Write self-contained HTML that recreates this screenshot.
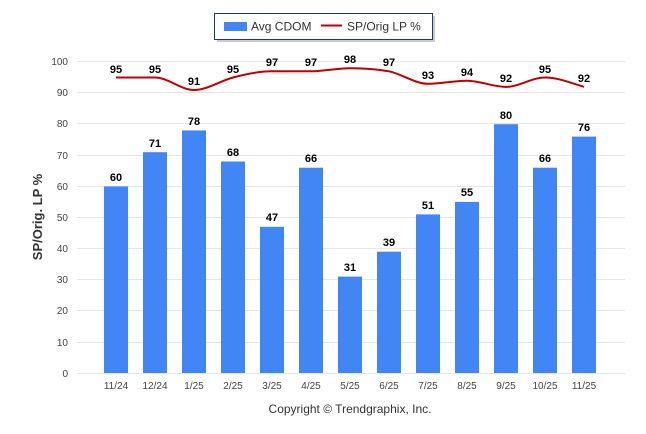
<!DOCTYPE html>
<html><head><style>body{margin:0;background:#fff}svg{display:block;font-family:"Liberation Sans",sans-serif}</style></head><body>
<svg width="646" height="434" viewBox="0 0 646 434" xmlns="http://www.w3.org/2000/svg">
<g stroke="#e6e6e6" stroke-width="1">
<line x1="77" x2="625" y1="61.5" y2="61.5"/><line x1="77" x2="625" y1="92.5" y2="92.5"/><line x1="77" x2="625" y1="123.5" y2="123.5"/><line x1="77" x2="625" y1="155.5" y2="155.5"/><line x1="77" x2="625" y1="186.5" y2="186.5"/><line x1="77" x2="625" y1="217.5" y2="217.5"/><line x1="77" x2="625" y1="248.5" y2="248.5"/><line x1="77" x2="625" y1="279.5" y2="279.5"/><line x1="77" x2="625" y1="310.5" y2="310.5"/><line x1="77" x2="625" y1="342.5" y2="342.5"/><line x1="77" x2="625" y1="373.5" y2="373.5"/>
</g>
<g font-size="10" fill="#444" text-anchor="end">
<text x="68" y="65">100</text><text x="68" y="96">90</text><text x="68" y="127">80</text><text x="68" y="159">70</text><text x="68" y="190">60</text><text x="68" y="221">50</text><text x="68" y="252">40</text><text x="68" y="283">30</text><text x="68" y="314">20</text><text x="68" y="346">10</text><text x="68" y="377">0</text>
</g>
<text transform="translate(42,217) rotate(-90)" text-anchor="middle" font-size="13" font-weight="bold" fill="#333">SP/Orig. LP %</text>
<g fill="#4285f4">
<rect x="104" y="186.4" width="24" height="186.6"/><rect x="143" y="152.2" width="24" height="220.8"/><rect x="182" y="130.4" width="24" height="242.6"/><rect x="221" y="161.5" width="24" height="211.5"/><rect x="260" y="226.8" width="24" height="146.2"/><rect x="299" y="167.7" width="24" height="205.3"/><rect x="338" y="276.6" width="24" height="96.4"/><rect x="377" y="251.7" width="24" height="121.3"/><rect x="416" y="214.4" width="24" height="158.6"/><rect x="455" y="201.9" width="24" height="171.1"/><rect x="494" y="124.2" width="24" height="248.8"/><rect x="533" y="167.7" width="24" height="205.3"/><rect x="572" y="136.6" width="24" height="236.4"/>
</g>
<g font-size="11" font-weight="bold" fill="#000" text-anchor="middle">
<text x="116" y="181">60</text><text x="155" y="147">71</text><text x="194" y="125">78</text><text x="233" y="156">68</text><text x="272" y="221">47</text><text x="311" y="162">66</text><text x="350" y="271">31</text><text x="389" y="246">39</text><text x="428" y="209">51</text><text x="467" y="196">55</text><text x="506" y="119">80</text><text x="545" y="162">66</text><text x="584" y="131">76</text>
</g>
<path fill="none" stroke="#c00000" stroke-width="2" d="M116,77.5 C129,77.5 142,77.5 155,77.5 C168,77.5 181,90 194,90 C207,90 220,81 233,77.5 C246,74 259,71.3 272,71.3 C285,71.3 298,71.3 311,71.3 C324,71.3 337,68.2 350,68.2 C363,68.2 376,69 389,71.3 C402,74 415,83.8 428,83.8 C441,83.8 454,80.7 467,80.7 C480,80.7 493,86.9 506,86.9 C519,86.9 532,77.5 545,77.5 C558,77.5 571,83 584,86.9"/>
<g font-size="11" font-weight="bold" fill="#000" text-anchor="middle">
<text x="116" y="73">95</text><text x="155" y="73">95</text><text x="194" y="85">91</text><text x="233" y="73">95</text><text x="272" y="66">97</text><text x="311" y="66">97</text><text x="350" y="63">98</text><text x="389" y="66">97</text><text x="428" y="79">93</text><text x="467" y="76">94</text><text x="506" y="82">92</text><text x="545" y="73">95</text><text x="584" y="82">92</text>
</g>
<g font-size="10" fill="#444" text-anchor="middle">
<text x="116" y="389">11/24</text><text x="155" y="389">12/24</text><text x="194" y="389">1/25</text><text x="233" y="389">2/25</text><text x="272" y="389">3/25</text><text x="311" y="389">4/25</text><text x="350" y="389">5/25</text><text x="389" y="389">6/25</text><text x="428" y="389">7/25</text><text x="467" y="389">8/25</text><text x="506" y="389">9/25</text><text x="545" y="389">10/25</text><text x="584" y="389">11/25</text>
</g>
<text x="350" y="413" text-anchor="middle" font-size="12" fill="#333">Copyright © Trendgraphix, Inc.</text>
<rect x="217" y="16" width="218" height="26" fill="#999" opacity="0.5"/>
<rect x="214.5" y="13.5" width="218" height="26" fill="#fff" stroke="#1f3864" stroke-width="1"/>
<rect x="224" y="22" width="23" height="9" fill="#4285f4"/>
<text x="251" y="30.5" font-size="12" fill="#333">Avg CDOM</text>
<line x1="321" x2="342" y1="25.5" y2="25.5" stroke="#c00000" stroke-width="2"/>
<text x="347" y="30.5" font-size="12" fill="#333">SP/Orig LP %</text>
</svg>
</body></html>
